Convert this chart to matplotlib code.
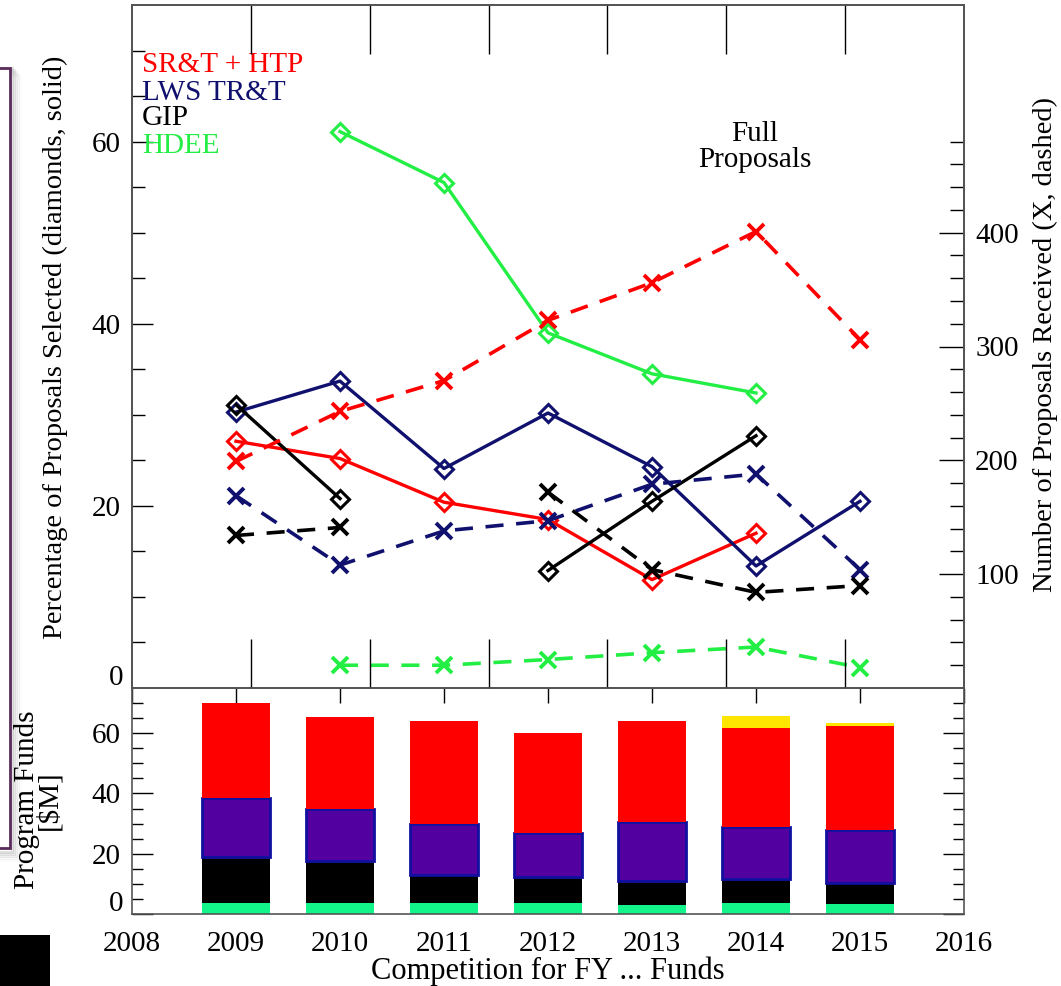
import numpy as np
import matplotlib
matplotlib.use("Agg")
import matplotlib.pyplot as plt
from matplotlib.ticker import FixedLocator, FixedFormatter
from matplotlib.patches import Rectangle

plt.rcParams['font.family'] = ['Liberation Serif', 'DejaVu Serif']

# ---------------- data ----------------
years = [2009, 2010, 2011, 2012, 2013, 2014, 2015]
xtick_years = [2008, 2009, 2010, 2011, 2012, 2013, 2014, 2015, 2016]

programs = ["SR&T + HTP", "LWS TR&T", "GIP", "HDEE"]

# Percentage of proposals selected (diamonds, solid)
pct_srt = [27.1, 25.2, 20.4, 18.5, 11.9, 17.0, np.nan]
pct_lws = [30.3, 33.7, 24.1, 30.2, 24.3, 13.4, 20.5]
pct_gip = [31.1, 20.8, np.nan, 12.9, 20.5, 27.7, np.nan]
pct_hdee = [np.nan, 61.1, 55.5, 39.0, 34.5, 32.4, np.nan]

# Number of proposals received (X, dashed)
num_srt = [199, 243, 270, 323, 356, 401, 306]
num_lws = [169, 108, 138, 147, 179, 188, 104]
num_gip = [134, 141, np.nan, 172, 104, 84, 90]
num_hdee = [np.nan, 20, 20, 25, 31, 36, 18]

# Program funds [$M] (stacked)
fund_hdee = [3.7, 3.7, 3.7, 3.7, 2.9, 3.7, 3.3]
fund_gip = [15.3, 13.9, 9.2, 8.6, 7.9, 7.8, 7.1]
fund_lws = [19.6, 17.2, 16.9, 14.7, 19.8, 17.5, 17.5]
fund_srt = [31.5, 30.5, 34.2, 33.0, 33.4, 32.6, 34.4]
fund_other = [0, 0, 0, 0, 0, 4.2, 1.2]

# ---------------- style ----------------
c_red = "#FF0000"
c_navy = "#10106E"
c_black = "#000000"
c_green = "#22EE44"

W, H = 1061, 986
fig = plt.figure(figsize=(W / 100, H / 100), dpi=100)

def fr(x0, y0, x1, y1):
    return [x0 / W, 1 - y1 / H, (x1 - x0) / W, (y1 - y0) / H]

ax1 = fig.add_axes(fr(132, 5, 964, 688))
ax2 = fig.add_axes(fr(132, 688, 964, 914))

FS = 21
ytk = [0, 20, 40, 60]
ytk_lbl = ["", "20", "40", "60"]

# ---- top panel: percentages ----
ax1.set_xlim(2008, 2016)
ax1.set_ylim(0, 75)
ax1.set_xticks([])
ax1.yaxis.set_major_locator(FixedLocator(ytk))
ax1.yaxis.set_major_formatter(FixedFormatter(ytk_lbl))
ax1.yaxis.set_minor_locator(FixedLocator(list(range(5, 75, 5))))
ax1.tick_params(axis='y', which='major', direction='in', length=15, width=1,
                labelsize=FS, pad=8, right=False)
ax1.tick_params(axis='y', which='minor', direction='in', length=9, width=1, right=False)
ax1.annotate("0", xy=(0, 0), xycoords='axes fraction', xytext=(-6, 7),
             textcoords='offset points', ha='right', va='center', fontsize=FS)

pct_sets = [(pct_srt, c_red), (pct_lws, c_navy), (pct_gip, c_black), (pct_hdee, c_green)]
for vals, col in pct_sets:
    ax1.plot(years, vals, color=col, lw=2.4, marker='D', ms=9.5, mfc='none',
             mec=col, mew=2.2, zorder=3)

# counts on right axis
ax1r = ax1.twinx()
ax1r.set_ylim(0, 600)
ax1r.yaxis.set_major_locator(FixedLocator([100, 200, 300, 400]))
ax1r.yaxis.set_minor_locator(FixedLocator([v for v in range(20, 500, 20) if v % 100]))
ax1r.tick_params(axis='y', which='major', direction='in', length=18, width=1,
                 labelsize=FS, pad=8)
ax1r.tick_params(axis='y', which='minor', direction='in', length=10, width=1)
num_sets = [(num_srt, c_red), (num_lws, c_navy), (num_gip, c_black), (num_hdee, c_green)]
for vals, col in num_sets:
    ax1r.plot(years, vals, color=col, lw=2.6, ls=(0, (5, 3.5)), marker='x', ms=12,
              mec=col, mew=2.8, zorder=3)

# extra division ticks (top and bottom of upper panel)
ax1t = ax1.twiny()
ax1t.set_xlim(0, 7)
ax1t.xaxis.set_major_locator(FixedLocator([1, 2, 3, 4, 5, 6]))
ax1t.tick_params(axis='x', which='major', direction='in', length=35, width=1,
                 top=True, bottom=True, labeltop=False, labelbottom=False)

for a in (ax1, ax1r, ax1t):
    for s in a.spines.values():
        s.set_color("#555555")
        s.set_linewidth(1.2)

# text labels
ax1.text(0.012, 0.912, programs[0], transform=ax1.transAxes, color=c_red,
         fontsize=FS, va='center', ha='left')
ax1.text(0.012, 0.871, programs[1], transform=ax1.transAxes, color=c_navy,
         fontsize=FS, va='center', ha='left')
ax1.text(0.012, 0.834, programs[2], transform=ax1.transAxes, color=c_black,
         fontsize=FS, va='center', ha='left')
ax1.text(0.012, 0.794, programs[3], transform=ax1.transAxes, color=c_green,
         fontsize=FS, va='center', ha='left')
ax1.text(0.749, 0.792, "Full\nProposals", transform=ax1.transAxes, color='black',
         fontsize=FS, va='center', ha='center', linespacing=1.0)

# ---- bottom panel: funds ----
bw = 0.66
bottom = np.zeros(len(years))
bar_sets = [(fund_hdee, "#11F58A", 'none'), (fund_gip, "#000000", 'none'),
            (fund_lws, "#5200A0", "#1010A0"), (fund_srt, "#FF0000", 'none'),
            (fund_other, "#FFE600", 'none')]
for vals, col, ec in bar_sets:
    ax2.bar(years, vals, width=bw, bottom=bottom, color=col,
            edgecolor=ec, linewidth=2 if ec != 'none' else 0, zorder=2)
    bottom = bottom + np.array(vals)

ax2.set_xlim(2008, 2016)
ax2.set_ylim(0, 75)
ax2.set_xticks(xtick_years)
ax2.set_xticklabels([str(y) for y in xtick_years])
ax2.tick_params(axis='x', which='major', direction='in', length=11, width=1,
                top=True, bottom=False, labelsize=FS, pad=12)
ax2.yaxis.set_major_locator(FixedLocator(ytk))
ax2.yaxis.set_major_formatter(FixedFormatter(ytk_lbl))
ax2.yaxis.set_minor_locator(FixedLocator(list(range(5, 75, 5))))
ax2.tick_params(axis='y', which='major', direction='in', length=15, width=1,
                labelsize=FS, pad=8, right=True)
ax2.tick_params(axis='y', which='minor', direction='in', length=8, width=1, right=True)
ax2.annotate("0", xy=(0, 0), xycoords='axes fraction', xytext=(-6, 7),
             textcoords='offset points', ha='right', va='center', fontsize=FS)
for s in ax2.spines.values():
    s.set_color("#555555")
    s.set_linewidth(1.2)
ax2.set_xlabel("Competition for FY ... Funds", fontsize=FS + 1, labelpad=0)

# axis titles
fig.text(55 / W, 1 - 347 / H, "Percentage of Proposals Selected (diamonds, solid)",
         rotation=90, ha='center', va='center', fontsize=FS - 0.5)
fig.text(1045 / W, 1 - 345 / H, "Number of Proposals Received (X, dashed)",
         rotation=90, ha='center', va='center', fontsize=FS - 0.5)
fig.text(38 / W, 1 - 800 / H, "Program Funds\n[$M]", rotation=90, ha='center',
         va='center', fontsize=FS, linespacing=0.8)

# slide decorations: framed box edge with shadow, and black block
for i, a in enumerate([0.25, 0.18, 0.12, 0.07, 0.03]):
    fig.patches.append(Rectangle(((-20 + 2 + i * 2) / W, 1 - (852 + i * 2) / H),
                                 (30) / W, (784) / H, transform=fig.transFigure,
                                 facecolor='none', edgecolor=(0.5, 0.5, 0.5, a),
                                 lw=2, zorder=0))
fig.patches.append(Rectangle((-20 / W, 1 - 848 / H), 30 / W, 780 / H,
                             transform=fig.transFigure, facecolor='white',
                             edgecolor="#5B2C5B", lw=2, zorder=1))
fig.patches.append(Rectangle((0, 0), 50 / W, 51 / H, transform=fig.transFigure,
                             facecolor='black', edgecolor='none', zorder=1))

fig.savefig("out.png", dpi=100)
